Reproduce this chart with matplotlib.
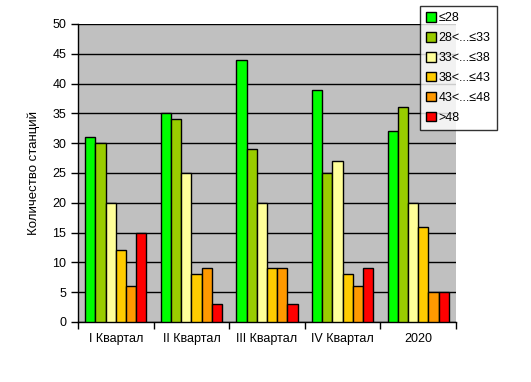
import matplotlib
matplotlib.use('Agg')
import matplotlib.pyplot as plt
import numpy as np

plt.rcParams['font.family'] = ['Liberation Sans', 'DejaVu Sans']

categories = ['I Квартал', 'II Квартал', 'III Квартал', 'IV Квартал', '2020']
series_names = ['≤28', '28<...≤33', '33<...≤38', '38<...≤43', '43<...≤48', '>48']
values = [
    [31, 35, 44, 39, 32],
    [30, 34, 29, 25, 36],
    [20, 25, 20, 27, 20],
    [12, 8, 9, 8, 16],
    [6, 9, 9, 6, 5],
    [15, 3, 3, 9, 5],
]
colors = ['#00FF00', '#99CC00', '#FFFF99', '#FFCC00', '#FF9900', '#FF0000']

W, H = 531, 382
fig = plt.figure(figsize=(W / 100, H / 100), dpi=100)
ax = fig.add_axes([78 / W, 1 - 322 / H, (456 - 78) / W, (322 - 24) / H])
ax.set_facecolor('#C0C0C0')

x = np.arange(len(categories))
bw = 0.135
handles = []
for i, (vals, c) in enumerate(zip(values, colors)):
    off = (i - 2.5) * bw
    b = ax.bar(x + off, vals, bw, color=c, edgecolor='black', linewidth=1, zorder=3)
    handles.append(b)

ax.set_xlim(-0.5, len(categories) - 0.5)
ax.set_ylim(0, 50)
ax.set_yticks(range(0, 51, 5))
ax.yaxis.grid(True, color='black', linewidth=1, zorder=1)
ax.set_axisbelow(True)

ax.set_xticks(x)
ax.set_xticklabels(categories, fontsize=9)
ax.tick_params(axis='x', length=0, pad=8)
ax.set_xticks(np.arange(-0.5, len(categories)), minor=True)
ax.tick_params(axis='x', which='minor', length=5, width=1, direction='out')
ax.tick_params(axis='y', labelsize=9, length=5, width=1, direction='out')

for s in ['top', 'right']:
    ax.spines[s].set_visible(False)
ax.spines['left'].set_linewidth(1)
ax.spines['bottom'].set_linewidth(1)

ax.set_ylabel('Количество станций', fontsize=9.5)
ax.yaxis.set_label_coords(-0.1, 0.5)

leg = fig.legend(handles, series_names, loc='upper left',
                 bbox_to_anchor=(420 / W, 1 - 6 / H), fontsize=9,
                 frameon=True, fancybox=False, handlelength=0.8, handleheight=0.8,
                 handletextpad=0.2, labelspacing=0.62, borderpad=0.5,
                 borderaxespad=0)
leg.get_frame().set_edgecolor('black')
leg.get_frame().set_linewidth(1)

fig.savefig('out.png', dpi=100)
